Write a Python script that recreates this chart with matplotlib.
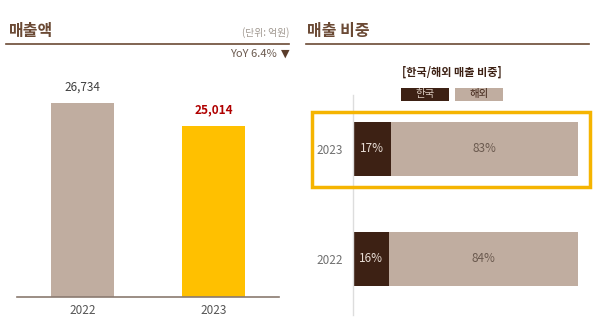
import matplotlib
matplotlib.use("Agg")
import matplotlib.pyplot as plt
from matplotlib.patches import Rectangle

plt.rcParams['font.family'] = ['Noto Sans CJK KR', 'DejaVu Sans']

# data
years = ['2022', '2023']
sales = [26734, 25014]          # 억원
yoy = 'YoY 6.4%'

share_years = ['2022', '2023']
korea = [16, 17]
overseas = [84, 83]
series_names = ['한국', '해외']

BROWN = '#6b4a35'
DARK = '#3d2114'
TAN = '#c0ada0'
GOLD = '#ffc000'
W, H = 600, 328

def fx(px):
    return px / W

def fy(py):
    return 1 - py / H

fig = plt.figure(figsize=(6, 3.28), dpi=100)

# ---------- left: 매출액 ----------
fig.text(fx(9), fy(31), '매출액', fontsize=11.5, fontweight='bold', color=BROWN, va='center')
fig.add_artist(plt.Line2D([fx(6), fx(289)], [fy(44), fy(44)], color=BROWN, lw=1.2))
fig.text(fx(289), fy(33), '(단위: 억원)', fontsize=7, color='#a09890', ha='right', va='center')
fig.text(fx(277), fy(54), yoy, fontsize=8, color='#6b5a4f', ha='right', va='center')
fig.text(fx(289), fy(54), '▼', fontsize=8, color='#5a3d2b', ha='right', va='center',
         family=['DejaVu Sans'])

ax1 = fig.add_axes([fx(17), fy(297), fx(279 - 17), (297 - 60) / H])
bar_cols = [TAN, GOLD]
ax1.bar(range(len(years)), sales, width=0.48, color=bar_cols)
ax1.set_xlim(-0.5, 1.5)
ax1.set_ylim(12200, 30000)
ax1.set_xticks(range(len(years)))
ax1.set_xticklabels(years, fontsize=8.5, color='#555555')
ax1.tick_params(axis='x', length=0, pad=5)
ax1.set_yticks([])
for s in ['top', 'right', 'left']:
    ax1.spines[s].set_visible(False)
ax1.spines['bottom'].set_color('#8a7a70')
ax1.spines['bottom'].set_linewidth(1.2)
lab_style = [dict(color='#404040', fontweight='normal'), dict(color='#b00000', fontweight='bold')]
for i, v in enumerate(sales):
    ax1.annotate(f'{v:,}', (i, v), xytext=(0, 7), textcoords='offset points',
                 ha='center', va='bottom', fontsize=8.5, **lab_style[i])

# ---------- right: 매출 비중 ----------
fig.text(fx(307), fy(31), '매출 비중', fontsize=11.5, fontweight='bold', color=BROWN, va='center')
fig.add_artist(plt.Line2D([fx(306), fx(589)], [fy(44), fy(44)], color=BROWN, lw=1.2))
fig.text(fx(452), fy(72), '[한국/해외 매출 비중]', fontsize=8, fontweight='bold',
         color=DARK, ha='center', va='center')

leg_cols = [DARK, TAN]
leg_txt = ['#d8c8bc', DARK]
for i, name in enumerate(series_names):
    x0 = 401 + i * 54
    fig.add_artist(Rectangle((fx(x0), fy(101)), fx(48), 13 / H, transform=fig.transFigure,
                             facecolor=leg_cols[i], edgecolor='none'))
    fig.text(fx(x0 + 24), fy(94.5), name, fontsize=7.5, color=leg_txt[i], ha='center', va='center')

ax2 = fig.add_axes([fx(353), fy(315), fx(578 - 353), (315 - 95) / H])
ypos = range(len(share_years))
ax2.barh(ypos, korea, height=0.49, color=DARK)
ax2.barh(ypos, overseas, left=korea, height=0.49, color=TAN)
ax2.set_xlim(0, 100)
ax2.set_ylim(-0.51, 1.49)
ax2.set_yticks(list(ypos))
ax2.set_yticklabels(share_years, fontsize=8.5, color='#707070')
ax2.tick_params(axis='y', length=0, pad=7)
ax2.set_xticks([])
for s in ['top', 'right', 'bottom']:
    ax2.spines[s].set_visible(False)
ax2.spines['left'].set_color('#dddddd')
ax2.spines['left'].set_linewidth(1)
for i in ypos:
    ax2.text(korea[i] / 2, i, f'{korea[i]}%', ha='center', va='center', fontsize=8.5, color='#e8ddd5')
    ax2.text(korea[i] + overseas[i] / 2, i, f'{overseas[i]}%', ha='center', va='center',
             fontsize=8.5, color='#6b5a4f')

# highlight box around 2023
fig.add_artist(Rectangle((fx(312), fy(187)), fx(590 - 312), (187 - 112) / H,
                         transform=fig.transFigure, facecolor='none', edgecolor='#f5b400', lw=2.5))

fig.savefig('out.png', dpi=100)
